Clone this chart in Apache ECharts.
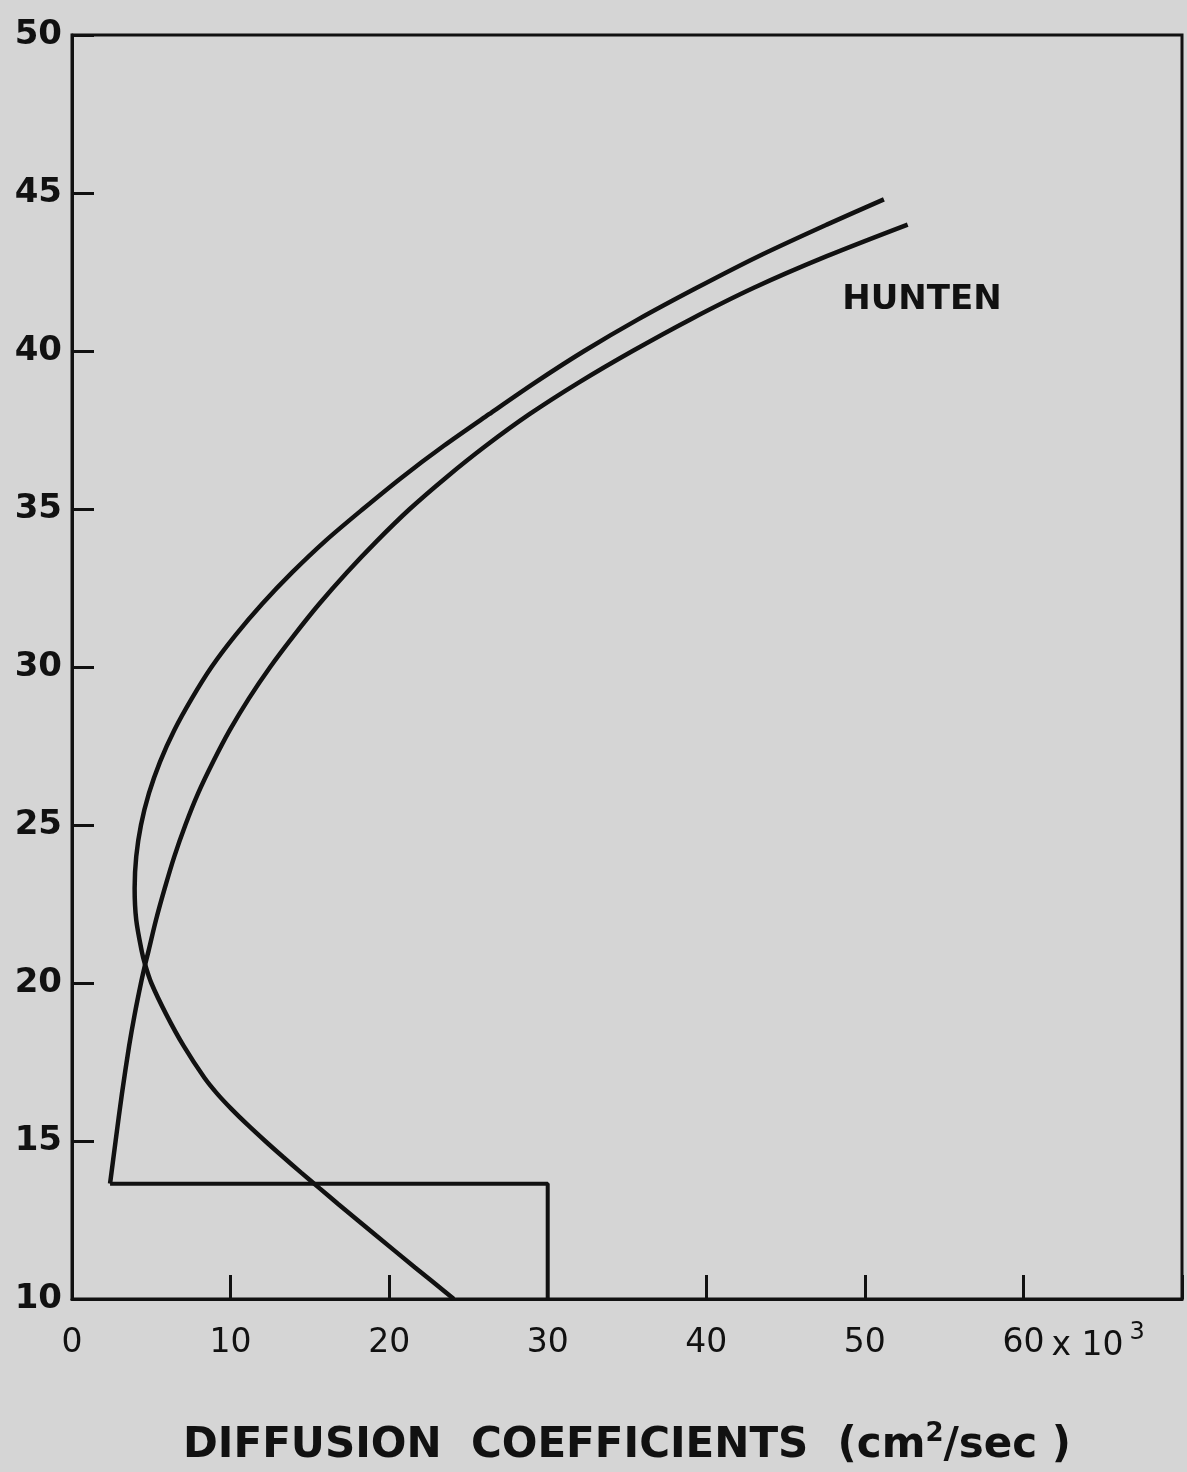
<!DOCTYPE html>
<html>
<head>
<meta charset="utf-8">
<script src="https://cdn.jsdelivr.net/npm/echarts@6/dist/echarts.min.js"></script>
<style>
html,body{margin:0;padding:0;background:#d5d5d5;}
#c{width:1187px;height:1472px;}
</style>
</head>
<body>
<div id="c"></div>
<script>
// x: diffusion coefficient (x10^3 cm^2/sec), y: altitude
const xTicks = [0, 10, 20, 30, 40, 50, 60];
const yTicks = [10, 15, 20, 25, 30, 35, 40, 45, 50];
const curveA = [
  [24.08, 10], [21.63, 11], [19.2, 12], [16.8, 13], [15.62, 13.5], [14.45, 14], [13.3, 14.5],
  [12.18, 15], [11.1, 15.5], [10.08, 16], [9.15, 16.5], [8.35, 17], [7.05, 18],
  [5.95, 19], [5.0, 20], [4.6, 20.6], [4.4, 21], [4.05, 22], [3.95, 23], [4.05, 24],
  [4.35, 25], [4.85, 26], [5.55, 27], [6.45, 28], [7.55, 29], [8.8, 30], [10.3, 31],
  [12.0, 32], [13.9, 33], [16.0, 34], [18.35, 35], [20.8, 36], [23.45, 37], [26.3, 38],
  [29.2, 39], [32.3, 40], [35.7, 41], [39.4, 42], [43.3, 43], [47.6, 44], [51.2, 44.8]
];
const huntenStep = [[30, 10], [30, 13.65], [2.4, 13.65]];
const huntenCurve = [
  [2.4, 13.65], [2.75, 15], [3.15, 16.5], [3.6, 18], [3.95, 19], [4.35, 20], [4.62, 20.6],
  [4.82, 21], [5.3, 22], [5.85, 23], [6.45, 24], [7.15, 25], [7.95, 26], [8.9, 27],
  [9.95, 28], [11.15, 29], [12.5, 30], [14.0, 31], [15.6, 32], [17.35, 33], [19.25, 34],
  [21.3, 35], [23.6, 36], [26.1, 37], [28.85, 38], [31.95, 39], [35.35, 40], [39.0, 41],
  [43.0, 42], [47.6, 43], [52.7, 44]
];
const xTitle = 'DIFFUSION  COEFFICIENTS  (cm{sup|2}/sec )';
const curveLabel = 'HUNTEN';

const chart = echarts.init(document.getElementById('c'));
const black = '#111111';
const lineStyle = {color: black, width: 4.5};
chart.setOption({
  backgroundColor: '#d5d5d5',
  animation: false,
  grid: {left: 72, top: 35, width: 1110, height: 1273, show: true, borderColor: black, borderWidth: 3, backgroundColor: 'transparent'},
  xAxis: {
    type: 'value', min: 0, max: 70, interval: 10,
    axisLine: {lineStyle: {color: black, width: 3}},
    axisTick: {inside: true, length: 24, lineStyle: {color: black, width: 3}},
    splitLine: {show: false},
    axisLabel: {
      margin: 28, color: black, fontFamily: 'DejaVu Sans', fontSize: 33,
      formatter: v => xTicks.indexOf(v) >= 0 ? String(v) : ''
    },
    name: xTitle, nameLocation: 'middle', nameGap: 122,
    nameTextStyle: {color: black, fontFamily: 'DejaVu Sans', fontWeight: 'bold', fontSize: 42,
      rich: {sup: {fontSize: 26, fontWeight: 'bold', fontFamily: 'DejaVu Sans', color: black, verticalAlign: 'top', padding: [0, 0, 24, 0]}}}
  },
  yAxis: {
    type: 'value', min: 10, max: 50, interval: 5,
    axisLine: {lineStyle: {color: black, width: 3}},
    axisTick: {inside: true, length: 22, lineStyle: {color: black, width: 3}},
    splitLine: {show: false},
    axisLabel: {
      margin: 10, color: black, fontFamily: 'DejaVu Sans', fontWeight: 'bold', fontSize: 34,
      formatter: v => yTicks.indexOf(v) >= 0 ? String(v) : ''
    }
  },
  series: [
    {type: 'line', data: curveA, smooth: 0.3, symbol: 'none', lineStyle: lineStyle},
    {type: 'line', data: huntenStep, symbol: 'none', lineStyle: {color: black, width: 4}},
    {type: 'line', data: huntenCurve, smooth: 0.3, symbol: 'none', lineStyle: lineStyle}
  ]
});

// extra text positioned via the axis scales
const p60 = chart.convertToPixel({gridIndex: 0}, [60, 10]);
const pH = chart.convertToPixel({gridIndex: 0}, [53.6, 41.6]);
chart.setOption({
  graphic: [
    {type: 'text', left: p60[0] + 28, top: p60[1] + 22,
     style: {text: 'x 10{s|3}', fill: black, font: '33px "DejaVu Sans"',
       rich: {s: {fontSize: 24, fontFamily: 'DejaVu Sans', fill: black, verticalAlign: 'top', padding: [0, 0, 26, 6]}}}},
    {type: 'text', x: pH[0], y: pH[1],
     style: {text: curveLabel, fill: black, font: 'bold 34px "DejaVu Sans"', align: 'center', verticalAlign: 'middle'}}
  ]
});
</script>
</body>
</html>
